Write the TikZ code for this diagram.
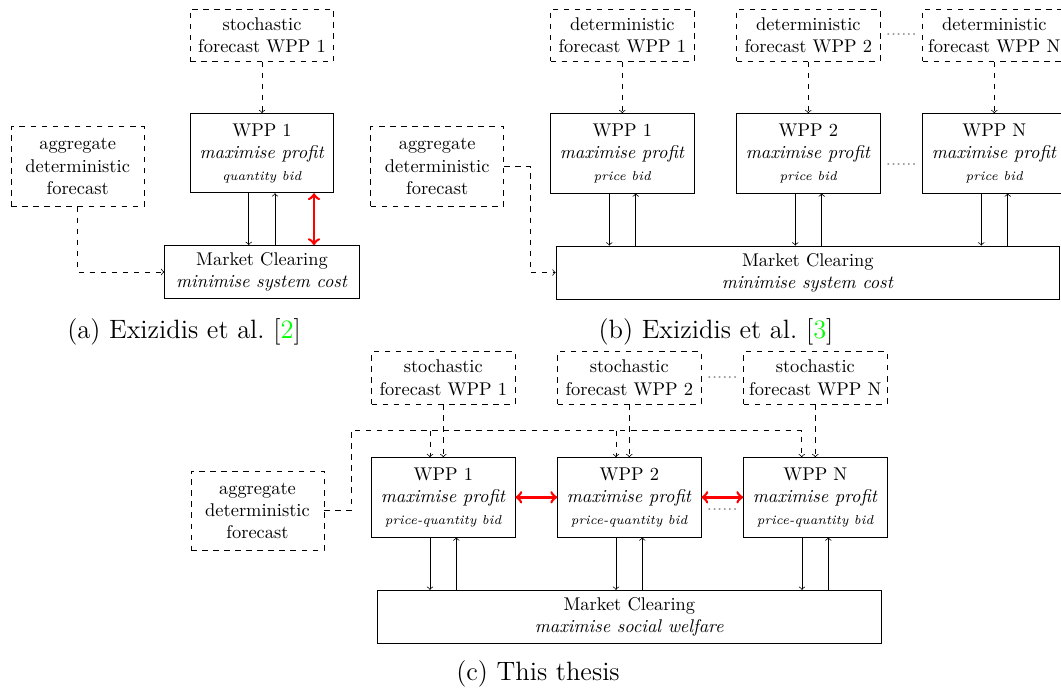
\documentclass[tikz,border=0pt]{standalone}
\usetikzlibrary{calc}
\definecolor{citegreen}{rgb}{0,1,0}

\begin{document}
\begin{tikzpicture}[x=0.543pt,y=-0.543pt,
  fcast/.style={draw, dashed, align=center, inner sep=0pt,
    minimum width=143.3*0.543pt, minimum height=52.3*0.543pt},
  wpp/.style={draw, align=center, inner sep=0pt,
    minimum width=143.3*0.543pt, minimum height=79.3*0.543pt},
  agg/.style={draw, dashed, align=center, inner sep=0pt,
    minimum width=133*0.543pt, minimum height=79.3*0.543pt},
  mc/.style={draw, align=center, inner sep=0pt,
    minimum width=#1*0.543pt, minimum height=53*0.543pt},
  flow/.style={->},
  dflow/.style={->, dashed},
  link/.style={<->, red, line width=1.4pt},
  gapdots/.style={inner sep=0pt, text=black!45},
  subcap/.style={font=\Large, anchor=base}]

\useasboundingbox (0,0) rectangle (1061,693);
\clip (0,0) rectangle (1061,693);

% ---------- (a) ----------
\node[fcast] (sfa) at (262,35.3) {stochastic\\forecast WPP 1};
\node[wpp] (wppa) at (262,153.2) {WPP 1\\\textit{maximise profit}\\{\scriptsize\textit{quantity bid}}};
\node[agg] (agga) at (77.7,166.5) {aggregate\\deterministic\\forecast};
\node[mc=194.6] (mca) at (262,272) {Market Clearing\\\textit{minimise system cost}};

\draw[dflow] (sfa.south) -- (wppa.north);
\draw[dflow] (agga.south) |- (mca.west);
\coordinate (ad) at ($(wppa.south)+(-13.3,0)$);
\coordinate (au) at ($(wppa.south)+(13,0)$);
\coordinate (ar) at ($(wppa.south)+(52,0)$);
\draw[flow] (ad) -- (ad |- mca.north);
\draw[flow] (au |- mca.north) -- (au);
\draw[link] (ar) -- (ar |- mca.north);

\node[subcap] (capa) at (184,339) {(a) Exizidis et al.\ [\textcolor{citegreen}{2}]};

% ---------- (b) ----------
\node[fcast] (dfb1) at (622.3,35.2) {deterministic\\forecast WPP 1};
\node[fcast] (dfb2) at (808.3,35.2) {deterministic\\forecast WPP 2};
\node[fcast] (dfbN) at (994.3,35.2) {deterministic\\forecast WPP N};
\node[wpp] (wppb1) at (622.3,153.3) {WPP 1\\\textit{maximise profit}\\{\scriptsize\textit{price bid}}};
\node[wpp] (wppb2) at (808.3,153.3) {WPP 2\\\textit{maximise profit}\\{\scriptsize\textit{price bid}}};
\node[wpp] (wppbN) at (994.3,153.3) {WPP N\\\textit{maximise profit}\\{\scriptsize\textit{price bid}}};
\node[agg] (aggb) at (437.2,166.5) {aggregate\\deterministic\\forecast};
\node[mc=503.5] (mcb) at (807.8,272.5) {Market Clearing\\\textit{minimise system cost}};

\node[gapdots] (dotb1) at (901.3,35) {......};
\node[gapdots] (dotb2) at (901.3,165) {......};

\draw[dflow] (dfb1.south) -- (wppb1.north);
\draw[dflow] (dfb2.south) -- (wppb2.north);
\draw[dflow] (dfbN.south) -- (wppbN.north);
\draw[dflow] (aggb.east) -- ++(26.3,0) |- (mcb.west);

\foreach \w in {wppb1,wppb2,wppbN} {
  \coordinate (\w-d) at ($(\w.south)+(-13,0)$);
  \coordinate (\w-u) at ($(\w.south)+(13.4,0)$);
  \draw[flow] (\w-d) -- (\w-d |- mcb.north);
  \draw[flow] (\w-u |- mcb.north) -- (\w-u);
}

\node[subcap] (capb) at (716,339) {(b) Exizidis et al.\ [\textcolor{citegreen}{3}]};

% ---------- (c) ----------
\node[fcast] (sfc1) at (443.3,377.8) {stochastic\\forecast WPP 1};
\node[fcast] (sfc2) at (629.3,377.8) {stochastic\\forecast WPP 2};
\node[fcast] (sfcN) at (815.3,377.8) {stochastic\\forecast WPP N};
\node[wpp] (wppc1) at (443.3,497.3) {WPP 1\\\textit{maximise profit}\\{\scriptsize\textit{price-quantity bid}}};
\node[wpp] (wppc2) at (629.3,497.3) {WPP 2\\\textit{maximise profit}\\{\scriptsize\textit{price-quantity bid}}};
\node[wpp] (wppcN) at (815.3,497.3) {WPP N\\\textit{maximise profit}\\{\scriptsize\textit{price-quantity bid}}};
\node[agg] (aggc) at (257.5,510.7) {aggregate\\deterministic\\forecast};
\node[mc=504.7] (mcc) at (629.3,616.8) {Market Clearing\\\textit{maximise social welfare}};

\node[gapdots] (dotc1) at (722.3,378) {......};
\node[gapdots] (dotc2) at (722.3,510) {......};

\draw[dflow] (sfc1.south) -- (wppc1.north);
\draw[dflow] (sfc2.south) -- (wppc2.north);
\draw[dflow] (sfcN.south) -- (wppcN.north);

% aggregate forecast shared by all plants
\coordinate (k1) at ($(wppc1.north)+(-13.3,-26.7)$);
\coordinate (k2) at ($(wppc2.north)+(-13.3,-26.7)$);
\coordinate (kN) at ($(wppcN.north)+(-13.6,-26.7)$);
\draw[dflow] (aggc.east) -- ++(26.5,0) |- (kN) -- (kN |- wppcN.north);
\draw[dflow] (k1) -- (k1 |- wppc1.north);
\draw[dflow] (k2) -- (k2 |- wppc2.north);

\draw[link] (wppc1.east) -- (wppc2.west);
\draw[link] (wppc2.east) -- (wppcN.west);

\foreach \w in {wppc1,wppc2,wppcN} {
  \coordinate (\w-d) at ($(\w.south)+(-13.3,0)$);
  \coordinate (\w-u) at ($(\w.south)+(13,0)$);
  \draw[flow] (\w-d) -- (\w-d |- mcc.north);
  \draw[flow] (\w-u |- mcc.north) -- (\w-u);
}

\node[subcap] (capc) at (538,680) {(c) This thesis};

\end{tikzpicture}
\end{document}
